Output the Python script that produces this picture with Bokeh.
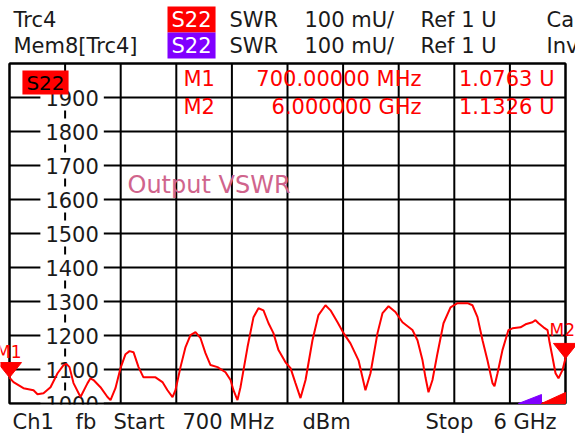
from bokeh.plotting import figure
from bokeh.models import Range1d, Label, ColumnDataSource
from bokeh.core.properties import value
from bokeh.embed import file_html
from bokeh.resources import INLINE

# ---------------- data ----------------
x_start, x_stop = 0.7, 6.0          # GHz
y_bottom, y_top = 1000, 2000        # mU
y_ticks = [1000, 1100, 1200, 1300, 1400, 1500, 1600, 1700, 1800, 1900]
y_tick_labels = ["1000", "1100", "1200", "1300", "1400", "1500", "1600", "1700", "1800", "1900"]

freq_ghz = [0.700, 0.738, 0.833, 0.929, 0.967, 1.024, 1.091, 1.158, 1.215, 1.243,
            1.272, 1.310, 1.377, 1.444, 1.472, 1.501, 1.567, 1.634, 1.663, 1.710,
            1.758, 1.806, 1.844, 1.882, 1.930, 1.977, 2.092, 2.158, 2.206, 2.254,
            2.282, 2.330, 2.378, 2.425, 2.473, 2.521, 2.568, 2.616, 2.683, 2.759,
            2.807, 2.835, 2.873, 2.902, 2.969, 3.026, 3.073, 3.121, 3.169, 3.216,
            3.264, 3.331, 3.379, 3.426, 3.474, 3.522, 3.588, 3.645, 3.712, 3.760,
            3.827, 3.884, 3.950, 4.027, 4.093, 4.141, 4.208, 4.256, 4.313, 4.379,
            4.446, 4.541, 4.589, 4.637, 4.665, 4.694, 4.732, 4.780, 4.837, 4.904,
            4.970, 5.066, 5.113, 5.161, 5.209, 5.256, 5.304, 5.323, 5.352, 5.399,
            5.456, 5.494, 5.571, 5.619, 5.685, 5.714, 5.743, 5.790, 5.829, 5.848,
            5.876, 5.905, 5.933, 5.971, 6.000]
swr_mu = [1076, 1063, 1045, 1039, 1027, 1030, 1048, 1089, 1113, 1116,
          1107, 1060, 1019, 1060, 1074, 1069, 1048, 1019, 1010, 1045,
          1104, 1145, 1154, 1151, 1107, 1077, 1077, 1063, 1039, 1019,
          1039, 1107, 1166, 1201, 1210, 1192, 1148, 1113, 1107, 1092,
          1069, 1039, 1010, 1048, 1166, 1254, 1280, 1274, 1236, 1207,
          1157, 1121, 1104, 1060, 1016, 1069, 1186, 1260, 1289, 1274,
          1239, 1207, 1177, 1127, 1039, 1089, 1207, 1266, 1286, 1269,
          1239, 1216, 1186, 1127, 1077, 1033, 1069, 1148, 1236, 1283,
          1295, 1295, 1289, 1254, 1186, 1127, 1060, 1051, 1089, 1157,
          1216, 1221, 1224, 1233, 1239, 1245, 1236, 1224, 1216, 1180,
          1136, 1089, 1074, 1098, 1133]

marker_names = ["M1", "M2"]
marker_freq = [0.7, 6.0]
marker_swr = [1076.3, 1132.6]
marker_stim = ["700.00000 MHz", "6.000000 GHz"]
marker_resp = ["1.0763 U", "1.1326 U"]

header_row1 = ["Trc4", "S22", "SWR", "100 mU/", "Ref 1 U", "Ca"]
header_row2 = ["Mem8[Trc4]", "S22", "SWR", "100 mU/", "Ref 1 U", "Inv"]
footer = ["Ch1", "fb", "Start", "700 MHz", "dBm", "Stop", "6 GHz"]
trace_title = "Output VSWR"

# ---------------- layout helpers (canvas pixels -> data) ----------------
W, H = 575, 436
FL, FR, FT, FB = 9, 565, 63, 403   # diagram box in canvas pixels


def fx(px):
    return x_start + (px - FL) * (x_stop - x_start) / (FR - FL)


def fy(py):
    return y_bottom + (FB - py) * (y_top - y_bottom) / (FB - FT)


FONT = "DejaVu Sans"
RED = "#ff0000"
PURPLE = "#8000ff"
INK = "#1a1a1a"

p = figure(width=W, height=H, x_range=Range1d(fx(0), fx(W)), y_range=Range1d(fy(H), fy(0)),
           output_backend="svg", toolbar_location=None,
           x_axis_location=None, y_axis_location=None,
           min_border=0, min_border_left=0, min_border_right=0,
           min_border_top=0, min_border_bottom=0)
p.background_fill_color = "white"
p.border_fill_color = "white"
p.outline_line_color = None
for g in list(p.grid):
    g.visible = False

# grid (10 x 10 divisions)
x_grid_ticks = [x_start + k * (x_stop - x_start) / 10 for k in range(11)]
y_grid_ticks = [y_bottom + k * 100 for k in range(11)]
p.segment(x0=x_grid_ticks, x1=x_grid_ticks, y0=[y_bottom] * 11, y1=[y_top] * 11,
          line_color="black", line_width=2)
p.segment(x0=[x_start] * 11, x1=[x_stop] * 11, y0=y_grid_ticks, y1=y_grid_ticks,
          line_color="black", line_width=2)

# y tick labels inside first column (white boxes interrupt the grid)
lab_src = ColumnDataSource(dict(x=[x_grid_ticks[1]] * len(y_ticks), y=y_ticks, t=y_tick_labels))
p.text(x="x", y="y", text="t", source=lab_src, text_align="center", text_baseline="middle",
       text_font=value(FONT), text_font_size="21px", text_color=INK, x_offset=7,
       background_fill_color="white", padding=(5, 5))

# hide what falls below the diagram box, then redraw the box border
p.quad(left=fx(0), right=fx(W), bottom=fy(H), top=fy(FB + 1), fill_color="white", line_color=None)
p.quad(left=x_start, right=x_stop, bottom=y_bottom, top=y_top, fill_color=None,
       line_color="black", line_width=2)

# trace
p.line(freq_ghz, swr_mu, line_color=RED, line_width=2)

# marker triangles (tip at marker value)
dx = 12 * (x_stop - x_start) / (FR - FL)
dy = 15 * (y_top - y_bottom) / (FB - FT)
p.patches(xs=[[f - dx, f + dx, f] for f in marker_freq],
          ys=[[v + dy, v + dy, v] for v in marker_swr],
          fill_color=RED, line_color=RED)

# out-of-range indicators bottom right
p.patches(xs=[[fx(518), fx(541), fx(541)], [fx(541), fx(565), fx(565)]],
          ys=[[fy(403), fy(394), fy(403)], [fy(403), fy(392), fy(403)]],
          fill_color=[PURPLE, RED], line_color=[PURPLE, RED])

# marker table
mt = ColumnDataSource(dict(
    xn=[fx(183)] * 2, xs=[fx(421)] * 2, xr=[fx(554)] * 2,
    y=[fy(78), fy(106)], n=marker_names, s=marker_stim, r=marker_resp))
for xcol, tcol, align in (("xn", "n", "left"), ("xs", "s", "right"), ("xr", "r", "right")):
    p.text(x=xcol, y="y", text=tcol, source=mt, text_align=align, text_baseline="middle",
           text_font=value(FONT), text_font_size="21px", text_color=RED)

# trace title
p.add_layout(Label(x=fx(127), y=fy(184), text=trace_title, text_font=FONT, text_font_size="24px",
                   text_color="#d0648c", text_baseline="middle"))

# S22 box top-left of diagram
p.add_layout(Label(x=fx(45), y=fy(82), text="S22", text_font=FONT, text_font_size="20px",
                   text_color="black", text_align="center", text_baseline="middle",
                   background_fill_color=RED, padding=(4, 0)))

# marker labels
p.add_layout(Label(x=fx(21), y=fy(351), text="M1", text_font=FONT, text_font_size="17px",
                   text_color=RED, text_align="right", text_baseline="middle"))
p.add_layout(Label(x=fx(549), y=fy(329), text="M2", text_font=FONT, text_font_size="17px",
                   text_color=RED, text_align="left", text_baseline="middle"))

# header rows
hx = [13, 167, 229, 304, 420, 546]
for row, yc, boxc in ((header_row1, 19, RED), (header_row2, 45, PURPLE)):
    for i, (t, x) in enumerate(zip(row, hx)):
        kw = {}
        if i == 1:
            kw = dict(background_fill_color=boxc, padding=(4, 1))
        p.add_layout(Label(x=fx(x), y=fy(yc), text=t, text_font=FONT, text_font_size="21px",
                           text_color=("white" if i == 1 else INK), text_baseline="middle", **kw))

# footer
fxs = [12, 75, 113, 182, 302, 425, 493]
for t, x in zip(footer, fxs):
    p.add_layout(Label(x=fx(x), y=fy(421), text=t, text_font=FONT, text_font_size="21px",
                       text_color=INK, text_baseline="middle"))

open("out.html", "w").write(file_html(p, INLINE))
